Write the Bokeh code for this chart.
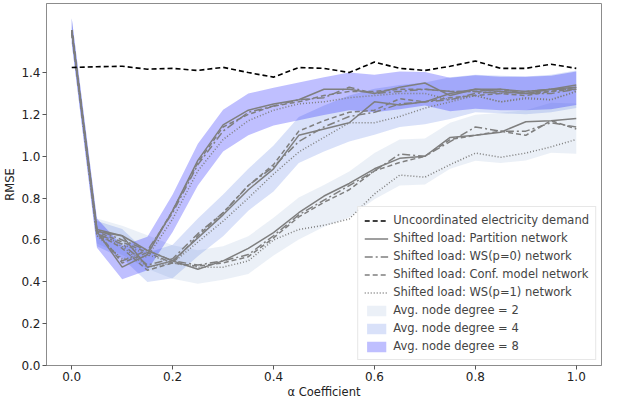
import numpy as np
from bokeh.plotting import figure
from bokeh.models import Range1d, FixedTicker, NumeralTickFormatter, Legend, LegendItem
from bokeh.embed import file_html
from bokeh.resources import INLINE

alpha = [0.00, 0.05, 0.10, 0.15, 0.20, 0.25, 0.30, 0.35, 0.40, 0.45, 0.50,
         0.55, 0.60, 0.65, 0.70, 0.75, 0.80, 0.85, 0.90, 0.95, 1.00]

uncoordinated = [1.424, 1.428, 1.430, 1.416, 1.420, 1.410, 1.425, 1.400, 1.378, 1.424, 1.420,
                 1.400, 1.450, 1.420, 1.410, 1.430, 1.455, 1.420, 1.420, 1.440, 1.420]

# Average node degree = 2
partition_2 = [1.60, 0.65, 0.62, 0.55, 0.50, 0.46, 0.50, 0.56, 0.635, 0.73, 0.81,
               0.87, 0.94, 0.99, 1.00, 1.09, 1.10, 1.115, 1.165, 1.17, 1.18]
ws0_2 = [1.60, 0.65, 0.60, 0.55, 0.50, 0.48, 0.50, 0.53, 0.62, 0.72, 0.79,
         0.86, 0.93, 1.01, 1.00, 1.07, 1.14, 1.12, 1.12, 1.16, 1.14]
conf_2 = [1.60, 0.64, 0.59, 0.54, 0.49, 0.475, 0.49, 0.52, 0.61, 0.71, 0.78,
          0.84, 0.93, 0.97, 1.00, 1.08, 1.10, 1.12, 1.10, 1.17, 1.13]
ws1_2 = [1.60, 0.63, 0.58, 0.53, 0.49, 0.47, 0.47, 0.50, 0.60, 0.65, 0.67,
         0.70, 0.82, 0.91, 0.90, 0.96, 1.015, 0.995, 1.015, 1.045, 1.08]

# Average node degree = 4
partition_4 = [1.60, 0.64, 0.62, 0.47, 0.50, 0.61, 0.72, 0.84, 0.94, 1.10, 1.13,
               1.16, 1.26, 1.245, 1.26, 1.30, 1.32, 1.31, 1.30, 1.32, 1.33]
ws0_4 = [1.60, 0.63, 0.58, 0.48, 0.51, 0.63, 0.73, 0.86, 0.95, 1.07, 1.14,
         1.19, 1.21, 1.25, 1.26, 1.27, 1.30, 1.31, 1.30, 1.30, 1.32]
conf_4 = [1.60, 0.63, 0.56, 0.455, 0.49, 0.62, 0.73, 0.86, 0.96, 1.12, 1.17,
          1.21, 1.22, 1.275, 1.26, 1.28, 1.29, 1.30, 1.29, 1.31, 1.32]
ws1_4 = [1.60, 0.62, 0.57, 0.47, 0.49, 0.59, 0.69, 0.80, 0.915, 1.02, 1.09,
         1.16, 1.16, 1.19, 1.23, 1.26, 1.29, 1.26, 1.275, 1.27, 1.31]

# Average node degree = 8
partition_8 = [1.60, 0.64, 0.47, 0.53, 0.74, 0.98, 1.15, 1.22, 1.25, 1.27, 1.32,
               1.32, 1.30, 1.33, 1.35, 1.29, 1.32, 1.32, 1.31, 1.32, 1.34]
ws0_8 = [1.60, 0.63, 0.50, 0.55, 0.73, 0.96, 1.12, 1.21, 1.24, 1.27, 1.28,
         1.33, 1.30, 1.31, 1.32, 1.31, 1.31, 1.30, 1.31, 1.32, 1.32]
conf_8 = [1.60, 0.64, 0.49, 0.54, 0.74, 0.97, 1.14, 1.20, 1.24, 1.26, 1.29,
          1.31, 1.31, 1.32, 1.32, 1.31, 1.31, 1.32, 1.30, 1.31, 1.33]
ws1_8 = [1.60, 0.62, 0.51, 0.52, 0.70, 0.93, 1.08, 1.17, 1.22, 1.25, 1.26,
         1.28, 1.29, 1.30, 1.30, 1.27, 1.29, 1.26, 1.28, 1.27, 1.31]

# band half-widths
spread_2 = [0.06, 0.06, 0.07, 0.08, 0.08, 0.08, 0.08, 0.09, 0.09, 0.10, 0.10,
            0.11, 0.11, 0.11, 0.11, 0.11, 0.11, 0.12, 0.12, 0.12, 0.12]
spread_4 = [0.06, 0.06, 0.07, 0.07, 0.08, 0.09, 0.10, 0.10, 0.11, 0.11, 0.11,
            0.11, 0.11, 0.10, 0.10, 0.10, 0.09, 0.09, 0.09, 0.09, 0.09]
spread_8 = [0.06, 0.07, 0.08, 0.08, 0.09, 0.10, 0.10, 0.10, 0.09, 0.09, 0.09,
            0.09, 0.09, 0.09, 0.08, 0.08, 0.08, 0.08, 0.08, 0.08, 0.08]

x_ticks = [0.0, 0.2, 0.4, 0.6, 0.8, 1.0]
y_ticks = [0.0, 0.2, 0.4, 0.6, 0.8, 1.0, 1.2, 1.4]

FONT = "DejaVu Sans"

p = figure(width=604, height=401, output_backend="svg", toolbar_location=None,
           x_range=Range1d(-0.05, 1.05), y_range=Range1d(0, 1.73),
           min_border_left=2, min_border_right=3, min_border_top=3, min_border_bottom=2)

p.xgrid.visible = False
p.ygrid.visible = False
p.outline_line_color = "#8c8c8c"
p.outline_line_width = 1
p.background_fill_color = "white"

x = np.array(alpha)
bands = [
    ([partition_2, ws0_2, conf_2, ws1_2], spread_2, "#b0c4de", 0.25, "Avg. node degree = 2"),
    ([partition_4, ws0_4, conf_4, ws1_4], spread_4, "#4169e1", 0.20, "Avg. node degree = 4"),
    ([partition_8, ws0_8, conf_8, ws1_8], spread_8, "#0000ff", 0.25, "Avg. node degree = 8"),
]

band_items = []
for series, spread, col, a, lab in bands:
    mean = np.mean(np.array(series), axis=0)
    s = np.array(spread)
    r = p.varea(x=x, y1=mean - s, y2=mean + s, fill_color=col, fill_alpha=a)
    band_items.append(LegendItem(label=lab, renderers=[r]))

styles = ["solid", "8 3 2 3", "5 3", "1 2"]
names = ["Shifted load: Partition network", "Shifted load: WS(p=0) network",
         "Shifted load: Conf. model network", "Shifted load: WS(p=1) network"]
line_items = []
for series, spread, col, a, lab in bands:
    for k, ys in enumerate(series):
        r = p.line(x, ys, line_color="#7f7f7f", line_width=1.5, line_dash=styles[k])
        if len(line_items) < 4:
            line_items.append(LegendItem(label=names[k], renderers=[r]))

r_unc = p.line(x, uncoordinated, line_color="black", line_width=1.6, line_dash="5 3")

legend = Legend(items=[LegendItem(label="Uncoordinated electricity demand", renderers=[r_unc])]
                + line_items + band_items,
                location="bottom_right")
legend.label_text_font = FONT
legend.label_text_font_size = "11.5px"
legend.label_height = 13
legend.glyph_height = 13
legend.glyph_width = 24
legend.spacing = 4
legend.padding = 6
legend.margin = 5
legend.border_line_color = "#d0d0d0"
legend.border_line_width = 1
legend.background_fill_alpha = 0.9
p.add_layout(legend)

for ax in (p.xaxis[0], p.yaxis[0]):
    ax.axis_line_color = "#8c8c8c"
    ax.major_tick_line_color = "#555555"
    ax.major_tick_out = 4
    ax.major_tick_in = 0
    ax.minor_tick_line_color = None
    ax.major_label_text_font = FONT
    ax.major_label_text_font_size = "12px"
    ax.major_label_text_color = "#222222"
    ax.axis_label_text_font = FONT
    ax.axis_label_text_font_size = "11.5px"
    ax.axis_label_text_font_style = "normal"
    ax.axis_label_text_color = "#222222"
    ax.major_label_standoff = 2
    ax.axis_label_standoff = 1
    ax.formatter = NumeralTickFormatter(format="0.0")

p.xaxis[0].ticker = FixedTicker(ticks=x_ticks)
p.yaxis[0].ticker = FixedTicker(ticks=y_ticks)
p.xaxis[0].axis_label = "α Coefficient"
p.yaxis[0].axis_label = "RMSE"

open("out.html", "w").write(file_html(p, INLINE))
